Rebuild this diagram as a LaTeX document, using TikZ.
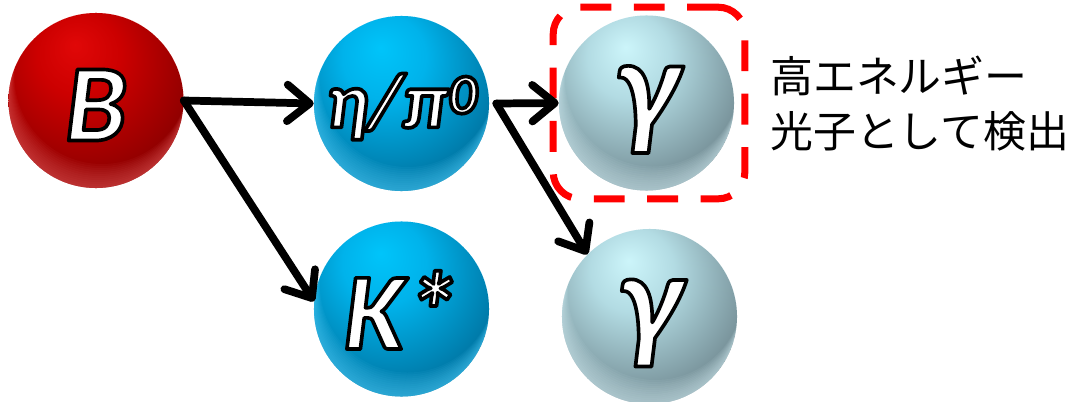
\documentclass[tikz,border=0pt]{standalone}
\usepackage{fontspec}
\setmainfont{Carlito}
\newfontfamily\jpfont{Noto Sans CJK JP}
\usetikzlibrary{arrows.meta,fit}

\newcommand\outl[1]{\special{pdf:literal direct 0 G 2.6 w 1 j 2 Tr}#1\special{pdf:literal direct 0 Tr}}

\pgfdeclareradialshading{redball}{\pgfpoint{-6bp}{16bp}}{%
  rgb(0bp)=(0.88,0.03,0.03); rgb(12bp)=(0.80,0,0); rgb(32bp)=(0.55,0,0);
  rgb(52bp)=(0.33,0,0); rgb(70bp)=(0.26,0,0)}
\pgfdeclareradialshading{blueball}{\pgfpoint{-6bp}{16bp}}{%
  rgb(0bp)=(0.0,0.77,0.98); rgb(12bp)=(0.0,0.70,0.92); rgb(32bp)=(0.0,0.46,0.64);
  rgb(52bp)=(0.0,0.23,0.33); rgb(70bp)=(0.0,0.14,0.20)}
\pgfdeclareradialshading{grayball}{\pgfpoint{-6bp}{16bp}}{%
  rgb(0bp)=(0.80,0.96,0.98); rgb(12bp)=(0.70,0.86,0.89); rgb(32bp)=(0.46,0.56,0.59);
  rgb(52bp)=(0.23,0.28,0.30); rgb(70bp)=(0.15,0.19,0.20)}

\definecolor{rimred}{RGB}{230,90,90}
\definecolor{rimblue}{RGB}{80,210,255}
\definecolor{rimgray}{RGB}{215,242,248}

\tikzset{
  sphere/.style={circle, minimum size=4.375cm, inner sep=0pt, text=white},
  rimglow/.style={path picture={
      \foreach \s in {0.05,0.1,...,0.61}{
        \fill[#1, fill opacity=0.065, even odd rule]
          (path picture bounding box.center) circle[radius=2.1875cm]
          ([xshift=0.25*\s cm, yshift=\s cm]path picture bounding box.center) circle[radius=2.1875cm];}}},
  redsphere/.style={sphere, shading=redball, rimglow=rimred},
  bluesphere/.style={sphere, shading=blueball, rimglow=rimblue},
  graysphere/.style={sphere, shading=grayball, rimglow=rimgray},
  biglbl/.style={font=\bfseries\itshape\fontsize{78}{78}\selectfont, text height=57pt, text depth=0pt},
  gamlbl/.style={font=\bfseries\itshape\fontsize{96}{96}\selectfont, text height=41pt, text depth=0pt},
  midlbl/.style={font=\bfseries\itshape\fontsize{56}{56}\selectfont, text height=34pt, text depth=0pt},
  conn/.style={line width=5.5pt, line cap=round, line join=round,
    -{Straight Barb[length=16pt,width=26pt,line cap=round,line join=round]}},
  detbox/.style={draw=red, line width=5pt, dash pattern=on 22pt off 16pt,
    rounded corners=19pt},
  jp/.style={font=\jpfont\fontsize{30.5}{39}\selectfont, align=left, inner sep=0pt}
}

\begin{document}
\begin{tikzpicture}[x=0.025cm, y=-0.025cm]
  \useasboundingbox (0,0) rectangle (1077,401);

  \node[redsphere, biglbl]  (B)   at (96,100.5)   {\outl{B}};
  \node[bluesphere, midlbl] (eta) at (401.5,103.5) {\outl{η/π\raisebox{10pt}{\fontsize{40}{40}\selectfont 0}}};
  \node[bluesphere, biglbl] (K)   at (401.5,309)   {\outl{K*}};
  \node[graysphere, gamlbl] (g1)  at (646.5,103)   {\outl{γ}};
  \node[graysphere, gamlbl] (g2)  at (649.5,316.5) {\outl{γ}};

  \node[detbox, fit=(g1), inner sep=5.7pt, xshift=1.8pt] (box) {};

  \coordinate (eo) at ([xshift=0.175cm]eta.east);

  \draw[conn] (B.east) -- (eta.west);
  \draw[conn] (B.east) -- (K.175);
  \draw[conn] (eo) -- (g1.west);
  \draw[conn] (eo) -- (g2.135);

  \node[jp, anchor=base west] (note) at (770,147) {高エネルギー\\光子として検出};
\end{tikzpicture}
\end{document}
